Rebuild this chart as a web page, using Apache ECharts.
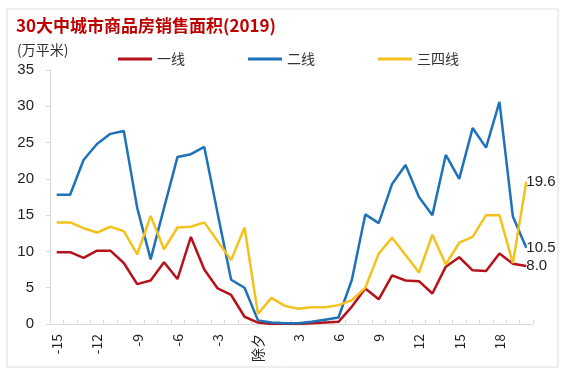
<!DOCTYPE html>
<html>
<head>
<meta charset="utf-8">
<script src="https://cdn.jsdelivr.net/npm/echarts@6/dist/echarts.min.js"></script>
<style>
html,body{margin:0;padding:0;background:#fff;}
#chart{width:573px;height:380px;}
</style>
</head>
<body>
<div id="chart"></div>
<script>
// Days relative to Chinese New Year's Eve (除夕 = 0)
const categories = [-15,-14,-13,-12,-11,-10,-9,-8,-7,-6,-5,-4,-3,-2,-1,'除夕',1,2,3,4,5,6,7,8,9,10,11,12,13,14,15,16,17,18,19,20].map(String);
const tier1 = [9.9,9.9,9.1,10.1,10.1,8.4,5.5,6.0,8.5,6.2,12.0,7.5,4.9,4.0,1.0,0.2,0,0,0,0.1,0.2,0.3,2.4,4.9,3.4,6.7,6.0,5.9,4.2,7.9,9.2,7.4,7.3,9.7,8.3,8.0];
const tier2 = [17.8,17.8,22.6,24.8,26.2,26.6,16.0,8.9,16.0,23.0,23.4,24.4,15.2,6.1,5.0,0.5,0.2,0.1,0.1,0.3,0.6,0.9,6.1,15.1,13.9,19.3,21.9,17.5,15.0,23.3,20.0,27.0,24.3,30.6,14.8,10.5];
const tier34 = [14.0,14.0,13.2,12.6,13.4,12.8,9.6,14.9,10.3,13.3,13.4,14.0,11.4,8.8,13.3,1.4,3.6,2.5,2.1,2.3,2.3,2.6,3.3,5.0,9.7,11.9,9.5,7.1,12.3,8.2,11.2,12.0,15.0,15.0,8.4,19.6];
const seriesNames = ['一线','二线','三四线'];
const yTicks = {min:0, max:35, interval:5};

const chart = echarts.init(document.getElementById('chart'), null, {renderer:'canvas'});
const numFont = '"Liberation Sans", Arial, sans-serif';
const cjkFont = '"Noto Sans CJK SC", "Liberation Sans", sans-serif';
const colors = ['#b5121b', '#1f72b8', '#f4c21c'];

function mk(name, data, color){
  return {
    name: name, type:'line', data: data, symbol:'none',
    lineStyle:{width:2.5, color: color}, itemStyle:{color: color},
    endLabel:{show:true, distance:0, formatter: p => Number(p.value).toFixed(1),
      fontFamily:numFont, fontSize:15, color:'#222'}
  };
}

chart.setOption({
  animation:false,
  backgroundColor:'#fff',
  graphic:[
    {type:'rect', shape:{x:7,y:9,width:551,height:358}, style:{fill:'none', stroke:'#dcdcdc', lineWidth:1}, silent:true},
    {type:'text', left:16, top:17, style:{text:'30大中城市商品房销售面积(2019)', fill:'#c00000', font:'bold 17px ' + cjkFont}},
    {type:'text', left:17, top:43, style:{text:'(万平米)', fill:'#333', font:'14px ' + cjkFont}}
  ],
  legend:{
    left:113, top:47, icon:'rect', itemWidth:34, itemHeight:3, itemGap:63,
    textStyle:{fontFamily:cjkFont, fontSize:14, color:'#333'},
    data: seriesNames
  },
  grid:{left:50, right:40, top:70, bottom:56},
  xAxis:{
    type:'category', data:categories, boundaryGap:true,
    axisLine:{lineStyle:{color:'#d9d9d9'}},
    axisTick:{show:true, inside:true, length:4, interval:0, lineStyle:{color:'#d9d9d9'}},
    axisLabel:{rotate:90, interval:2, margin:10, fontSize:14, color:'#222', fontFamily:cjkFont},
    splitLine:{show:false}
  },
  yAxis:{
    type:'value', min:yTicks.min, max:yTicks.max, interval:yTicks.interval,
    axisLine:{show:true, lineStyle:{color:'#d9d9d9'}},
    axisTick:{show:true, length:4, lineStyle:{color:'#d9d9d9'}},
    axisLabel:{margin:16, fontSize:15, color:'#222', fontFamily:numFont},
    splitLine:{show:false}
  },
  series:[
    mk(seriesNames[0], tier1, colors[0]),
    mk(seriesNames[1], tier2, colors[1]),
    mk(seriesNames[2], tier34, colors[2])
  ]
});
</script>
</body>
</html>
